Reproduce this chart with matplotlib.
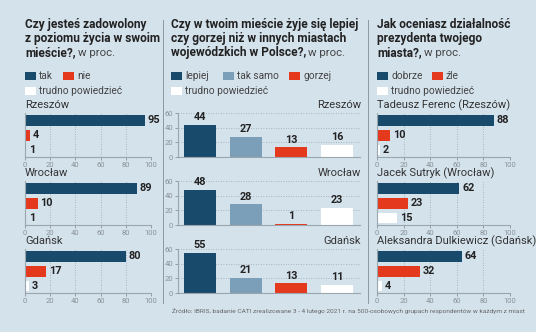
import matplotlib
matplotlib.use('Agg')
import matplotlib.pyplot as plt
from matplotlib.lines import Line2D
from matplotlib.patches import Rectangle

plt.rcParams['font.family'] = ['Roboto', 'DejaVu Sans']

# data
cities = ['Rzeszów', 'Wrocław', 'Gdańsk']
zadowolony_tak = [95, 89, 80]
zadowolony_nie = [4, 10, 17]
zadowolony_trudno = [1, 1, 3]

zycie_lepiej = [44, 48, 55]
zycie_tak_samo = [27, 28, 21]
zycie_gorzej = [13, 1, 13]
zycie_trudno = [16, 23, 11]

prezydenci = ['Tadeusz Ferenc (Rzeszów)', 'Jacek Sutryk (Wrocław)',
              'Aleksandra Dulkiewicz (Gdańsk)']
prezydent_dobrze = [88, 62, 64]
prezydent_zle = [10, 23, 32]
prezydent_trudno = [2, 15, 4]

# colours
BG = '#d4e2ec'
DARK = '#184a6c'
STEEL = '#7c9fb9'
RED = '#e5391d'
WHITE = '#ffffff'
TXT = '#222222'
GRAY = '#8a9298'

W, H = 536, 332
fig = plt.figure(figsize=(W / 100, H / 100), dpi=100, facecolor=BG)


def rect(x0, y0, x1, y1):
    return [x0 / W, 1 - y1 / H, (x1 - x0) / W, (y1 - y0) / H]


def ftext(x, y, s, **kw):
    return fig.text(x / W, 1 - y / H, s, **kw)


rows = [(113, 157), (181, 225), (249, 293)]


def title(x, y, lines, rest):
    t = None
    for i, ln in enumerate(lines):
        t = ftext(x, y + i * 14, ln, fontsize=8.6, fontweight='bold',
                  color=TXT, va='baseline')
    fig.canvas.draw()
    bb = t.get_window_extent()
    fig.text(bb.x1 / W + 2 / W, 1 - (y + (len(lines) - 1) * 14) / H, rest,
             fontsize=8.2, color='#444444', va='baseline')


def legend(x, y, items):
    for (lx, ly, col, lab) in items:
        fig.add_artist(Rectangle(((x + lx) / W, 1 - (y + ly + 4) / H), 11 / W, 8 / H,
                                 facecolor=col, edgecolor='none',
                                 transform=fig.transFigure))
        ftext(x + lx + 14, y + ly, lab, fontsize=7.3, color='#444444', va='center')


def hbars(x0, x1, vals, label):
    for (y0, y1), name, v in zip(rows, label, vals):
        ax = fig.add_axes(rect(x0, y0, x1, y1))
        ax.set_facecolor('none')
        cols = [DARK, RED, WHITE]
        ax.barh([0, 1, 2], v, height=0.72, color=cols)
        for i, val in enumerate(v):
            ax.annotate(str(val), (val, i), xytext=(2, 0), textcoords='offset points',
                        va='center', ha='left', fontsize=7.8, fontweight='bold', color=TXT)
        ax.set_xlim(0, 100)
        ax.set_ylim(2.47, -0.5)
        ax.set_xticks(range(0, 101, 20))
        ax.set_yticks([])
        ax.grid(axis='x', linestyle=(0, (1, 2)), color='#9aa5ad', linewidth=0.6)
        ax.set_axisbelow(True)
        for s in ['top', 'right']:
            ax.spines[s].set_visible(False)
        ax.spines['left'].set_color('#9aa5ad')
        ax.spines['bottom'].set_color('#9aa5ad')
        ax.tick_params(axis='x', labelsize=5.5, colors=GRAY, length=2, pad=1.5,
                       width=0.6)
        ftext(x0, y0 - 5, name, fontsize=8, color='#333333', va='baseline')


# panel 1
title(25, 28, ['Czy jesteś zadowolony', 'z poziomu życia w swoim', 'mieście?,'], 'w proc.')
legend(25, 76, [(0, 0, DARK, 'tak'), (38, 0, RED, 'nie'), (0, 15, WHITE, 'trudno powiedzieć')])
hbars(25, 151, list(zip(zadowolony_tak, zadowolony_nie, zadowolony_trudno)), cities)

# panel 2
title(171, 28, ['Czy w twoim mieście żyje się lepiej', 'czy gorzej niż w innych miastach',
                'wojewódzkich w Polsce?,'], 'w proc.')
legend(171, 76, [(0, 0, DARK, 'lepiej'), (52, 0, STEEL, 'tak samo'),
                 (118, 0, RED, 'gorzej'), (0, 15, WHITE, 'trudno powiedzieć')])
zycie = list(zip(zycie_lepiej, zycie_tak_samo, zycie_gorzej, zycie_trudno))
for (y0, y1), name, v in zip(rows, cities, zycie):
    ax = fig.add_axes(rect(178, y0, 360, y1))
    ax.set_facecolor('none')
    ax.bar(range(4), v, width=0.7, color=[DARK, STEEL, RED, WHITE])
    for i, val in enumerate(v):
        ax.annotate(str(val), (i, val), xytext=(0, 2), textcoords='offset points',
                    ha='center', va='bottom', fontsize=7.8, fontweight='bold', color=TXT)
    ax.set_xlim(-0.48, 3.5)
    ax.set_ylim(0, 60)
    ax.set_yticks([0, 20, 40, 60])
    ax.set_xticks([])
    ax.grid(axis='y', linestyle=(0, (1, 2)), color='#9aa5ad', linewidth=0.6)
    ax.set_axisbelow(True)
    for s in ['top', 'right']:
        ax.spines[s].set_visible(False)
    ax.spines['left'].set_color('#9aa5ad')
    ax.spines['bottom'].set_color('#9aa5ad')
    ax.tick_params(axis='y', labelsize=5.5, colors=GRAY, length=2, pad=1.5, width=0.6)
    ftext(361, y0 - 5, name, fontsize=8, color='#333333', va='baseline', ha='right')

# panel 3
title(377, 28, ['Jak oceniasz działalność', 'prezydenta twojego', 'miasta?,'], 'w proc.')
legend(377, 76, [(0, 0, DARK, 'dobrze'), (55, 0, RED, 'źle'), (0, 15, WHITE, 'trudno powiedzieć')])
hbars(377, 510, list(zip(prezydent_dobrze, prezydent_zle, prezydent_trudno)), prezydenci)

# separators
for x in [163, 368]:
    fig.add_artist(Line2D([x / W, x / W], [1 - 20 / H, 1 - 303 / H], color='#8d99a2',
                          linewidth=0.7, transform=fig.transFigure))

# source line, shrunk to fit between x=172 and x=526
src = ftext(172, 311, 'Źródło: IBRIS, badanie CATI zrealizowane 3 - 4 lutego 2021 r. na '
            '500-osobowych grupach respondentów w każdym z miast',
            fontsize=5.2, color='#666666', va='center')
fig.canvas.draw()
wpx = src.get_window_extent().width
src.set_fontsize(5.2 * 352 / wpx)

fig.savefig('out.png', dpi=100, facecolor=BG)
